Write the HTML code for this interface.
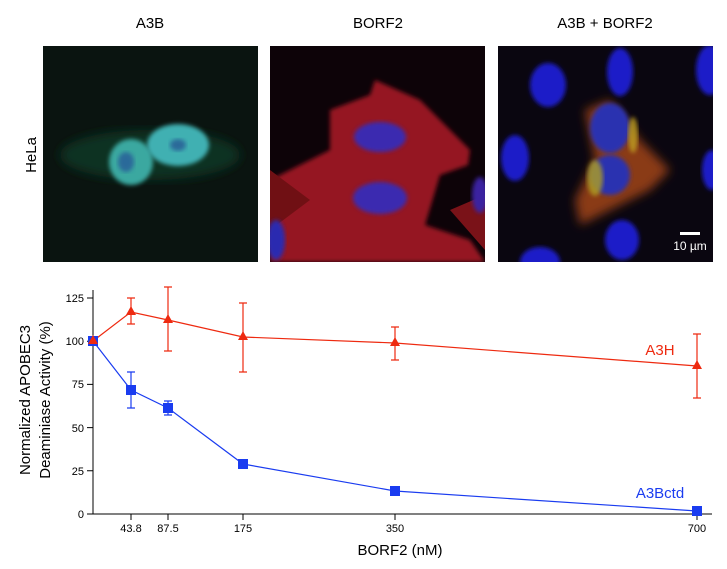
<!DOCTYPE html>
<html><head><style>html,body{margin:0;padding:0;background:#fff}svg{display:block}</style></head><body>
<svg width="727" height="569" xmlns="http://www.w3.org/2000/svg" font-family="Liberation Sans, Arial, sans-serif">
<defs>
<filter id="b2"><feGaussianBlur stdDeviation="2"/></filter>
<filter id="b5"><feGaussianBlur stdDeviation="5"/></filter>
<clipPath id="c1"><rect x="43" y="46" width="215" height="216"/></clipPath>
<clipPath id="c2"><rect x="270" y="46" width="215" height="216"/></clipPath>
<clipPath id="c3"><rect x="498" y="46" width="215" height="216"/></clipPath>
</defs>
<text x="150" y="28" font-size="15" text-anchor="middle">A3B</text>
<text x="378" y="28" font-size="15" text-anchor="middle">BORF2</text>
<text x="605" y="28" font-size="15" text-anchor="middle">A3B + BORF2</text>
<text transform="translate(36,155) rotate(-90)" font-size="15" text-anchor="middle">HeLa</text>
<!-- panel 1 -->
<g clip-path="url(#c1)">
<rect x="43" y="46" width="215" height="216" fill="#0a1410"/>
<ellipse cx="150" cy="155" rx="90" ry="25" fill="#0e3020" filter="url(#b5)"/>
<ellipse cx="131" cy="162" rx="22" ry="23" fill="#3aa8a0" filter="url(#b2)"/>
<ellipse cx="178" cy="145" rx="31" ry="21" fill="#40b0b2" filter="url(#b2)"/>
<ellipse cx="126" cy="162" rx="8" ry="10" fill="#2a6a9a" filter="url(#b2)"/>
<ellipse cx="178" cy="145" rx="8" ry="6" fill="#2a6a9a" filter="url(#b2)"/>
</g>
<!-- panel 2 -->
<g clip-path="url(#c2)">
<rect x="270" y="46" width="215" height="216" fill="#0d0308"/>
<path d="M330 110 L370 95 L375 80 L420 100 L470 150 L468 165 L440 175 L425 225 L470 240 L485 262 L270 262 L270 180 L300 165 L330 150 Z" fill="#951520" filter="url(#b2)"/>
<path d="M270 170 L310 200 L270 230 Z" fill="#701014"/>
<path d="M450 210 L485 195 L485 250 Z" fill="#7a1218"/>
<ellipse cx="380" cy="137" rx="26" ry="15" fill="#3a2ab0" filter="url(#b2)"/>
<ellipse cx="380" cy="198" rx="27" ry="16" fill="#3a2ab0" filter="url(#b2)"/>
<ellipse cx="276" cy="240" rx="9" ry="20" fill="#2c2ab0" filter="url(#b2)"/>
<ellipse cx="480" cy="195" rx="8" ry="18" fill="#3a24a0" filter="url(#b2)"/>
</g>
<!-- panel 3 -->
<g clip-path="url(#c3)">
<rect x="498" y="46" width="215" height="216" fill="#0a0610"/>
<path d="M585 110 L610 100 L640 140 L670 170 L650 190 L620 205 L580 225 L575 200 L595 160 Z" fill="#8a3a12" filter="url(#b5)"/>
<ellipse cx="610" cy="128" rx="20" ry="25" fill="#2b30b0" filter="url(#b2)"/>
<ellipse cx="610" cy="175" rx="20" ry="20" fill="#2b30b0" filter="url(#b2)"/>
<ellipse cx="595" cy="178" rx="8" ry="18" fill="#b0a020" filter="url(#b2)" opacity="0.8"/>
<ellipse cx="633" cy="135" rx="5" ry="18" fill="#c0a020" filter="url(#b2)" opacity="0.8"/>
<ellipse cx="548" cy="85" rx="18" ry="22" fill="#1f1fc8" filter="url(#b2)"/>
<ellipse cx="620" cy="72" rx="13" ry="24" fill="#1f1fc8" filter="url(#b2)"/>
<ellipse cx="515" cy="158" rx="14" ry="23" fill="#1f1fc8" filter="url(#b2)"/>
<ellipse cx="710" cy="70" rx="14" ry="25" fill="#1f1fc8" filter="url(#b2)"/>
<ellipse cx="712" cy="170" rx="10" ry="20" fill="#1f1fc8" filter="url(#b2)"/>
<ellipse cx="622" cy="240" rx="17" ry="20" fill="#1f1fc8" filter="url(#b2)"/>
<ellipse cx="540" cy="262" rx="20" ry="15" fill="#1f1fc8" filter="url(#b2)"/>
<rect x="680" y="232" width="20" height="3" fill="#fff"/>
<text x="690" y="250" font-size="12" fill="#fff" text-anchor="middle">10 µm</text>
</g>
<!-- chart -->
<g stroke="#000" stroke-width="1" fill="none">
<path d="M93 290 V514 H712"/>
<path d="M87 514 H93 M87 470.8 H93 M87 427.6 H93 M87 384.4 H93 M87 341.2 H93 M87 298 H93"/>
<path d="M131 514 V520 M168 514 V520 M243 514 V520 M395 514 V520 M697 514 V520"/>
</g>
<g font-size="11" text-anchor="end">
<text x="84" y="518">0</text><text x="84" y="475">25</text><text x="84" y="432">50</text><text x="84" y="388">75</text><text x="84" y="345">100</text><text x="84" y="302">125</text>
</g>
<g font-size="11" text-anchor="middle">
<text x="131" y="532">43.8</text><text x="168" y="532">87.5</text><text x="243" y="532">175</text><text x="395" y="532">350</text><text x="697" y="532">700</text>
</g>
<text x="400" y="555" font-size="15" text-anchor="middle">BORF2 (nM)</text>
<text transform="translate(30,400) rotate(-90)" font-size="15" text-anchor="middle">Normalized APOBEC3</text>
<text transform="translate(50,400) rotate(-90)" font-size="15" text-anchor="middle">Deaminiase Activity (%)</text>
<g stroke="#ee2a10" stroke-width="1.2" fill="none">
<polyline points="93,341 131,312 168,320 243,337 395,343 697,366"/>
<path d="M131 298 V324 M127 298 H135 M127 324 H135"/>
<path d="M168 287 V351 M164 287 H172 M164 351 H172"/>
<path d="M243 303 V372 M239 303 H247 M239 372 H247"/>
<path d="M395 327 V360 M391 327 H399 M391 360 H399"/>
<path d="M697 334 V398 M693 334 H701 M693 398 H701"/>
</g>
<g fill="#ee2a10">
<path d="M131 306 l-5 9 h10 z"/><path d="M168 314 l-5 9 h10 z"/><path d="M243 331 l-5 9 h10 z"/><path d="M395 337 l-5 9 h10 z"/><path d="M697 360 l-5 9 h10 z"/>
</g>
<text x="660" y="355" font-size="15" fill="#ee2a10" text-anchor="middle">A3H</text>
<g stroke="#1a3cf0" stroke-width="1.2" fill="none">
<polyline points="93,341 131,390 168,408 243,464 395,491 697,511"/>
<path d="M131 372 V408 M127 372 H135 M127 408 H135"/>
<path d="M168 401 V415 M164 401 H172 M164 415 H172"/>
</g>
<g fill="#1a3cf0">
<rect x="88" y="336" width="10" height="10"/><rect x="126" y="385" width="10" height="10"/><rect x="163" y="403" width="10" height="10"/><rect x="238" y="459" width="10" height="10"/><rect x="390" y="486" width="10" height="10"/><rect x="692" y="506" width="10" height="10"/>
</g>
<path d="M93 335 l-5 9 h10 z" fill="#ee2a10"/>
<text x="660" y="498" font-size="15" fill="#1a3cf0" text-anchor="middle">A3Bctd</text>
</svg>
</body></html>
